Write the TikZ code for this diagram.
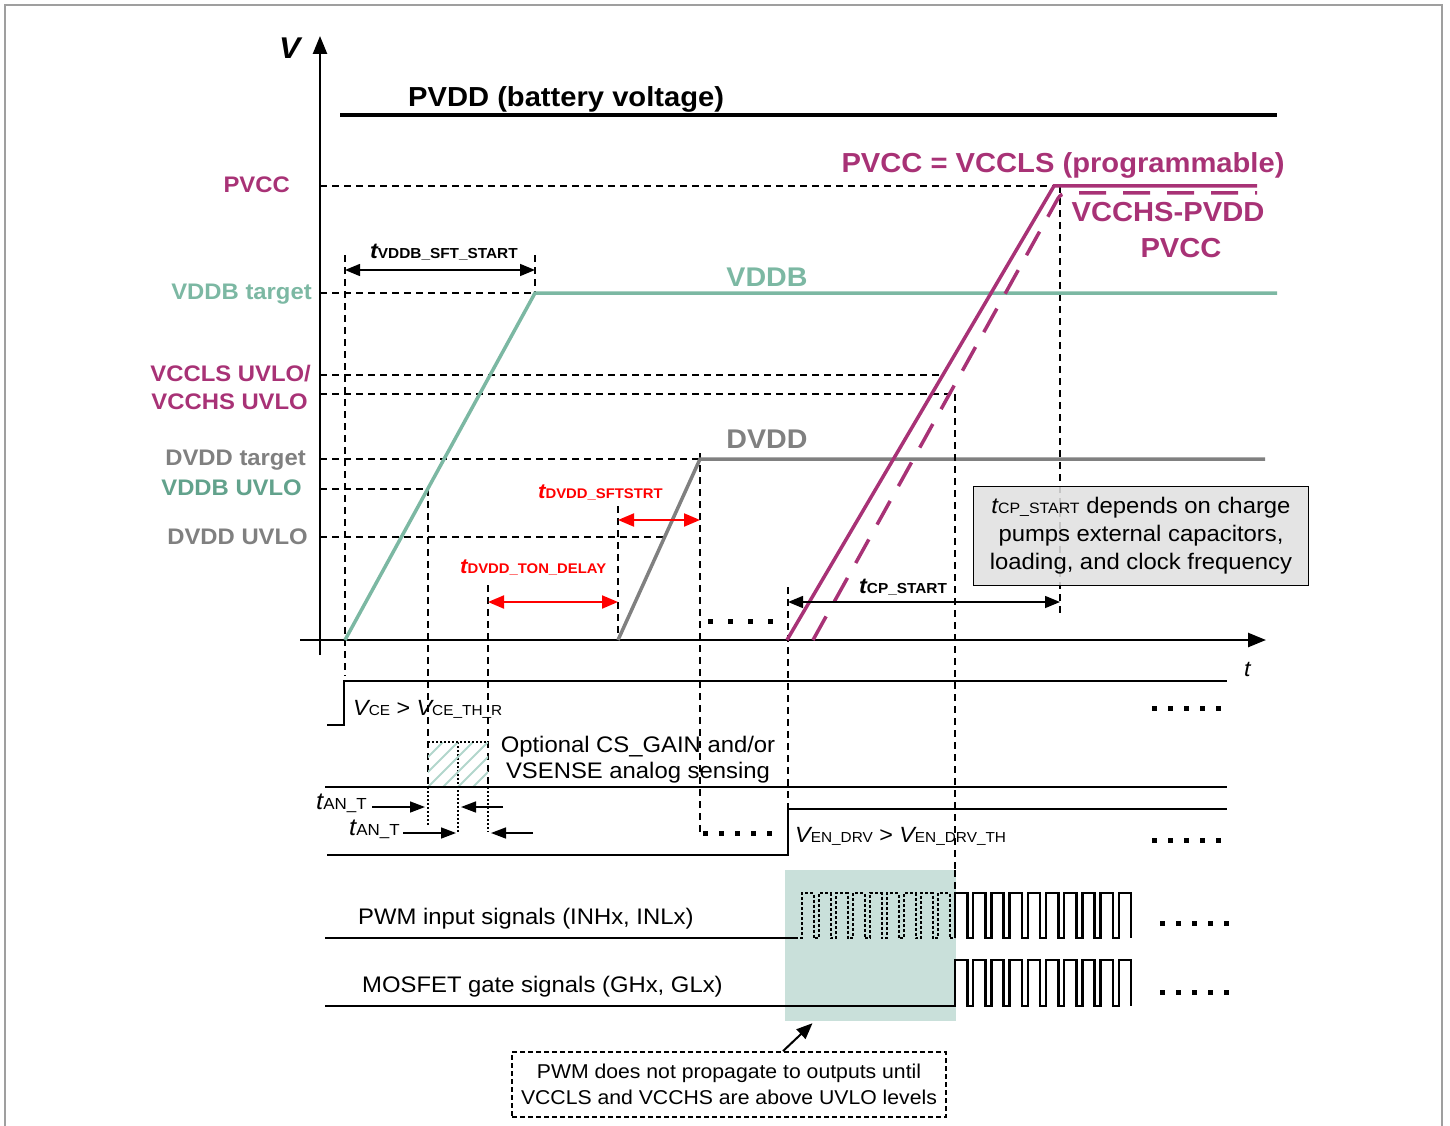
\documentclass[tikz,border=0pt]{standalone}
\usepackage{fontspec}
\setmainfont{Liberation Sans}[FakeStretch=1.06]
\usetikzlibrary{arrows.meta}
\definecolor{mag}{RGB}{168,50,118}
\definecolor{vgreen}{RGB}{124,184,163}
\definecolor{vgreendk}{RGB}{98,162,140}
\definecolor{dgray}{RGB}{128,128,128}
\definecolor{tealbox}{RGB}{201,224,218}
\definecolor{boxgray}{RGB}{224,224,224}
\definecolor{hatchc}{RGB}{178,214,204}
\newcommand{\fsz}[1]{\fontsize{#1}{#1}\selectfont}
\tikzset{
 dsh/.style={line width=1.6pt, dash pattern=on 7pt off 5pt},
 axisln/.style={line width=2.5pt, -{Triangle[length=18pt,width=14pt]}},
 dimarr/.style={line width=1.5pt, {Triangle[length=15pt,width=12pt]}-{Triangle[length=15pt,width=12pt]}},
 redarr/.style={red, line width=2pt, {Triangle[length=16pt,width=13pt]}-{Triangle[length=16pt,width=13pt]}},
 onearr/.style={line width=1.5pt, -{Triangle[length=15pt,width=11pt]}},
 sig/.style={line width=2.5pt},
 dots/.style={line width=5pt, dash pattern=on 5pt off 11pt},
 fine/.style={line width=1.5pt, dash pattern=on 2pt off 2pt},
 lbl/.style={inner sep=0pt},
}
\begin{document}
\begin{tikzpicture}[x=1pt,y=-1pt]
\useasboundingbox (0,0) rectangle (1450,1126);
% frame
\draw[gray!75, line width=2pt] (5,1126) -- (5,5) -- (1442,5) -- (1442,1126);

% dashed guides
\draw[dsh] (320,186) -- (1055,186);
\draw[dsh] (320,293) -- (535,293);
\draw[dsh] (320,375) -- (944,375);
\draw[dsh] (320,394) -- (955,394);
\draw[dsh] (320,459) -- (700,459);
\draw[dsh] (320,489) -- (428,489);
\draw[dsh] (320,537) -- (665,537);
\draw[dsh] (345,255) -- (345,676);
\draw[dsh] (535,255) -- (535,293);
\draw[dsh] (428,489) -- (428,787);
\draw[fine] (428,787) -- (428,826);
\draw[dsh] (488,585) -- (488,787);
\draw[fine] (488,787) -- (488,832);
\draw[fine] (458,742) -- (458,832);
\draw[dsh] (618,506) -- (618,640);
\draw[dsh] (700,453) -- (700,835);
\draw[dsh] (788,587) -- (788,808);
\draw[dsh] (1060,186) -- (1060,615);

% axes
\coordinate (vbot) at (320,655);
\coordinate (vtop) at (320,36);
\coordinate (tleft) at (300,640);
\coordinate (tright) at (1266,640);
\draw[axisln] (vbot) -- (vtop);
\draw[axisln] (tleft) -- (tright);
\node[lbl, anchor=base west] (vlab) at (279,59) {\fsz{30}\bfseries\itshape V};
\node[lbl, anchor=base west] (tlab) at (1244,676) {\fsz{22}\itshape t};

% PVDD
\coordinate (pv1) at (340,115);
\coordinate (pv2) at (1277,115);
\draw[line width=3.5pt] (pv1) -- (pv2);
\node[lbl, anchor=base west] (pvddlab) at (408,107) {\fsz{27.5}\bfseries PVDD (battery voltage)};

% VDDB
\draw[vgreen, line width=3.5pt] (345,640) -- (535,293) -- (1277,293);
% DVDD
\draw[dgray, line width=3.5pt] (618,640) -- (700,459) -- (1265,459);
% PVCC magenta
\draw[mag, line width=3.5pt] (787,640) -- (1054,186) -- (1257,186);
\draw[mag, line width=3.5pt, dash pattern=on 27pt off 17pt, rounded corners=6pt] (813,640) -- (1061,193) -- (1257,193);
\draw[dsh] (955,394) -- (955,893);

% left labels
\node[lbl, anchor=base east, text=mag] (lPVCC) at (290,193) {\fsz{22.5}\bfseries PVCC};
\node[lbl, anchor=base east, text=vgreen] (lVDDBt) at (312,299) {\fsz{22.5}\bfseries VDDB target};
\node[lbl, anchor=base east, text=mag] (lVCCLS) at (311,381) {\fsz{22.5}\bfseries VCCLS UVLO/};
\node[lbl, anchor=base east, text=mag] (lVCCHS) at (308,409) {\fsz{22.5}\bfseries VCCHS UVLO};
\node[lbl, anchor=base east, text=dgray] (lDVDDt) at (306,465) {\fsz{22.5}\bfseries DVDD target};
\node[lbl, anchor=base east, text=vgreendk] (lVDDBu) at (302,495) {\fsz{22.5}\bfseries VDDB UVLO};
\node[lbl, anchor=base east, text=dgray] (lDVDDu) at (308,544) {\fsz{22.5}\bfseries DVDD UVLO};

% curve labels
\node[lbl, anchor=base, text=vgreen] (cVDDB) at (767,286) {\fsz{27}\bfseries VDDB};
\node[lbl, anchor=base, text=dgray] (cDVDD) at (767,448) {\fsz{27}\bfseries DVDD};
\node[lbl, anchor=base, text=mag] (cPVCC) at (1063,173) {\fsz{27.5}\bfseries PVCC = VCCLS (programmable)};
\node[lbl, anchor=base, text=mag] (cVCCHS) at (1168,222) {\fsz{27.5}\bfseries VCCHS-PVDD};
\node[lbl, anchor=base, text=mag] (cPVCC2) at (1181,257) {\fsz{27.5}\bfseries PVCC};

% timing arrows
\coordinate (a1) at (345,270); \coordinate (a2) at (535,270);
\draw[dimarr] (a1) -- (a2);
\node[lbl, anchor=base west] (tvddb) at (370,258) {\bfseries{\fsz{22}\itshape t}{\fsz{14.5}VDDB\_SFT\_START}};
\coordinate (r1) at (618,520); \coordinate (r2) at (700,520);
\draw[redarr] (r1) -- (r2);
\node[lbl, anchor=base west, text=red] (tsft) at (538,498) {\bfseries{\fsz{21}\itshape t}{\fsz{14}DVDD\_SFTSTRT}};
\coordinate (r3) at (488,602); \coordinate (r4) at (618,602);
\draw[redarr] (r3) -- (r4);
\node[lbl, anchor=base west, text=red] (tton) at (460,573) {\bfseries{\fsz{21}\itshape t}{\fsz{14}DVDD\_TON\_DELAY}};
\coordinate (c1) at (788,602); \coordinate (c2) at (1060,602);
\draw[dimarr] (c1) -- (c2);
\node[lbl, anchor=base west] (tcp) at (859,593) {\bfseries{\fsz{22}\itshape t}{\fsz{14.5}CP\_START}};

% dots
\draw[dots, dash pattern=on 5pt off 15pt] (708,621) -- (775,621);

% info box
\node[draw=black, fill=boxgray, fill opacity=0.88, text opacity=1, line width=1.3pt, minimum width=335pt, minimum height=99pt, inner sep=0pt, align=center, font=\fontsize{22.5}{28}\selectfont] (info) at (1141,536)
 {{\itshape t}{\fsz{15}CP\_START} depends on charge\\pumps external capacitors,\\loading, and clock frequency};

% lower signals
\draw[sig] (327,725) -- (344,725) -- (344,681) -- (1227,681);
\node[lbl, anchor=base west] (vce) at (353,715) {{\fsz{22}\itshape V}{\fsz{14.5}CE}\fsz{22} > {\itshape V}{\fsz{14.5}CE\_TH\_R}};
\draw[dots] (1152,708) -- (1222,708);

% hatched box
\begin{scope}
\clip (428,742) rectangle (488,787);
\foreach \k in {-4,...,5} \draw[hatchc, line width=2pt] (428+\k*15,787) -- ++(45,-45);
\end{scope}
\draw[fine] (428,742) -- (488,742);
\node[lbl, anchor=base] (opt1) at (638,752) {\fsz{22.5}Optional CS\_GAIN and/or};
\node[lbl, anchor=base] (opt2) at (638,778) {\fsz{22.5}VSENSE analog sensing};

\draw[sig] (325,787) -- (1227,787);
\draw[sig] (327,855) -- (788,855) -- (788,809) -- (1227,809);
\node[lbl, anchor=base west] (ven) at (795,842) {{\fsz{22}\itshape V}{\fsz{14.5}EN\_DRV}\fsz{22} > {\itshape V}{\fsz{14.5}EN\_DRV\_TH}};
\draw[dots] (703,833) -- (775,833);
\draw[dots] (1152,840) -- (1222,840);

% tAN_T
\node[lbl, anchor=base west] (tan1) at (316,809) {{\fsz{24}\itshape t}{\fsz{16}AN\_T}};
\node[lbl, anchor=base west] (tan2) at (349,835) {{\fsz{24}\itshape t}{\fsz{16}AN\_T}};
\draw[onearr] (372,807) -- (425,807);
\draw[onearr] (503,807) -- (461,807);
\draw[onearr] (403,833) -- (456,833);
\draw[onearr] (533,833) -- (491,833);

% PWM region
\node[fill=tealbox, minimum width=171pt, minimum height=151pt, inner sep=0pt] (tbox) at (870.5,945.5) {};
\draw[dsh] (955,870) -- (955,893);
\draw[sig] (325,938) -- (795,938);
\draw[line width=2pt, dash pattern=on 3pt off 2pt] (795,938) -- (802,938) foreach \i in {1,...,9} { -- ++(0,-45) -- ++(11.5,0) -- ++(0,45) -- ++(5.5,0)};
\draw[sig] (955,938) foreach \i in {1,...,9} { -- ++(0,-45) -- ++(12.3,0) -- ++(0,45) -- ++(5.9,0)} -- ++(0,-45) -- ++(12.3,0) -- ++(0,45);
\draw[sig] (325,1006) -- (955,1006) foreach \i in {1,...,9} { -- ++(0,-46) -- ++(12.3,0) -- ++(0,46) -- ++(5.9,0)} -- ++(0,-46) -- ++(12.3,0) -- ++(0,46);
\node[lbl, anchor=base west] (pwmlab) at (358,924) {\fsz{22.5}PWM input signals (INHx, INLx)};
\node[lbl, anchor=base west] (moslab) at (362,992) {\fsz{22.5}MOSFET gate signals (GHx, GLx)};
\draw[dots] (1160,923) -- (1230,923);
\draw[dots] (1160,992) -- (1230,992);

% note
\node[draw=black, line width=1.8pt, dash pattern=on 5pt off 3pt, minimum width=434pt, minimum height=65pt, inner sep=0pt, align=center, font=\fontsize{20}{26}\selectfont] (note) at (729,1084.5)
 {PWM does not propagate to outputs until\\VCCLS and VCCHS are above UVLO levels};
\draw[line width=2pt, -{Triangle[length=16pt,width=13pt]}] ([xshift=54pt]note.north) -- ([xshift=-58pt,yshift=-2pt]tbox.south);
\end{tikzpicture}
\end{document}
